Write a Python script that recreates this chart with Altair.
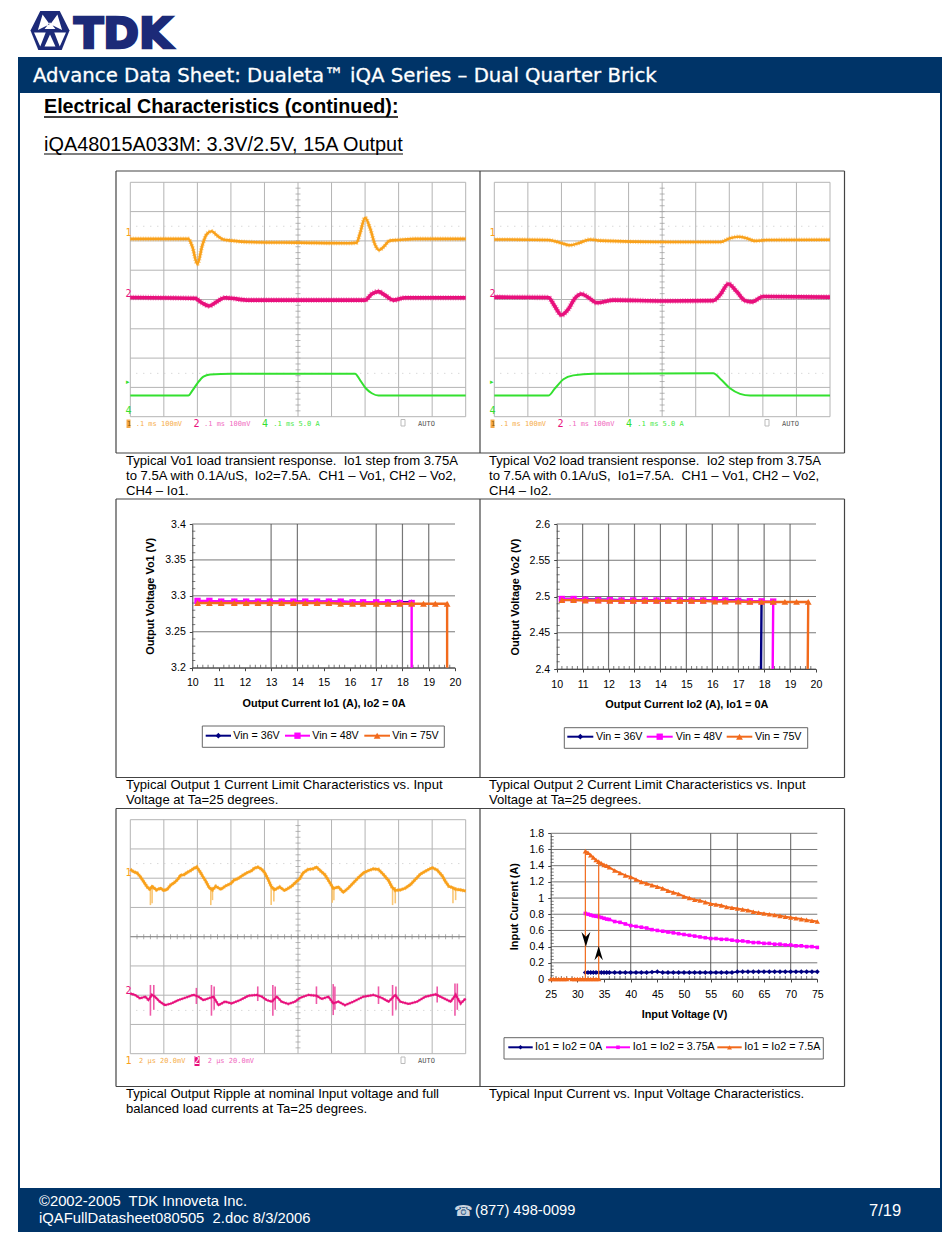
import altair as alt
import pandas as pd

# ---------- data ----------
# scope traces: (time in divisions, level in divisions)
S1_CH1 = [(0,6.07),(1.73,6.07),(1.85,5.80),(2.0,5.21),(2.15,5.86),(2.28,6.23),(2.43,6.33),(2.57,6.20),(2.77,6.05),(3.02,6.01),(3.52,5.96),(5.01,5.94),(6.5,5.92),(6.75,5.94),(6.85,6.26),(7.0,6.79),(7.15,6.43),(7.30,5.86),(7.42,5.69),(7.54,5.78),(7.74,6.01),(7.99,6.03),(8.49,6.07),(10,6.07)]
S1_CH2 = [(0,4.07),(1.93,4.04),(2.13,3.89),(2.35,3.78),(2.57,3.92),(2.82,4.06),(3.02,4.04),(3.52,3.98),(5.01,3.98),(6.5,3.98),(7.0,3.98),(7.2,4.19),(7.4,4.27),(7.59,4.15),(7.84,3.98),(8.19,4.06),(10,4.06)]
S1_CH4 = [(0,.72),(1.73,.72),(1.85,.89),(2,1.14),(2.18,1.37),(2.38,1.44),(3.02,1.47),(6.7,1.47),(6.85,1.25),(7.02,.97),(7.2,.80),(7.4,.72),(10,.72)]
S2_CH1 = [(0,6.05),(1.61,6.03),(1.96,5.94),(2.25,5.85),(2.55,5.94),(2.85,6.05),(3.15,6.01),(5.03,5.96),(6.72,5.96),(7.02,6.09),(7.27,6.14),(7.52,6.09),(7.77,6.0),(8.11,6.03),(10,6.04)]
S2_CH2 = [(0,4.08),(1.61,4.07),(1.78,3.81),(2.0,3.47),(2.2,3.66),(2.4,4.04),(2.6,4.19),(2.8,4.07),(3.05,3.89),(3.55,3.98),(5.03,3.95),(6.52,3.96),(6.72,4.15),(6.97,4.53),(7.22,4.27),(7.47,3.96),(7.67,3.92),(8.01,4.10),(10,4.08)]
S2_CH4 = [(0,.72),(1.61,.72),(1.81,.97),(2.06,1.28),(2.35,1.41),(2.95,1.47),(6.52,1.48),(6.77,1.25),(7.02,.97),(7.32,.78),(7.62,.72),(10,.72)]
R_CH1 = [(0,6.30),(.1,6.22),(.2,6.18),(.3,6.05),(.4,5.88),(.5,5.70),(.58,5.62),(.65,5.72),(.78,5.60),(.9,5.66),(1.0,5.58),(1.1,5.62),(1.2,5.76),(1.3,5.84),(1.4,5.94),(1.5,6.10),(1.6,6.12),(1.7,6.20),(1.8,6.26),(1.9,6.34),(1.98,6.38),(2.08,6.22),(2.15,6.08),(2.25,5.90),(2.35,5.68),(2.45,5.60),(2.55,5.72),(2.7,5.62),(2.85,5.74),(3.0,5.82),(3.1,5.94),(3.2,5.98),(3.35,6.10),(3.5,6.20),(3.6,6.24),(3.7,6.34),(3.8,6.38),(3.9,6.32),(4.0,6.20),(4.1,5.98),(4.2,5.72),(4.3,5.60),(4.45,5.70),(4.6,5.58),(4.8,5.72),(4.95,5.88),(5.05,5.98),(5.15,6.18),(5.3,6.30),(5.45,6.32),(5.55,6.38),(5.7,6.22),(5.8,6.12),(5.95,5.85),(6.05,5.65),(6.2,5.70),(6.35,5.52),(6.5,5.66),(6.65,5.84),(6.8,6.02),(6.95,6.18),(7.1,6.26),(7.25,6.32),(7.4,6.30),(7.55,6.12),(7.7,5.92),(7.8,5.70),(7.9,5.58),(8.05,5.60),(8.2,5.66),(8.35,5.78),(8.5,5.96),(8.65,6.14),(8.8,6.24),(9.0,6.36),(9.15,6.28),(9.3,6.08),(9.4,5.88),(9.5,5.72),(9.6,5.68),(9.7,5.62),(9.85,5.60),(10,5.56)]
R_CH2 = [(0,2.06),(.14,2.01),(.29,1.89),(.45,1.95),(.54,1.83),(.64,2.01),(.73,1.95),(.88,1.78),(1.03,1.66),(1.23,1.72),(1.43,1.83),(1.63,1.91),(1.88,2.01),(2.03,1.95),(2.18,1.83),(2.33,1.89),(2.48,1.95),(2.63,1.66),(2.82,1.78),(3.02,1.72),(3.27,1.83),(3.52,1.98),(3.77,2.01),(3.92,1.95),(4.07,1.83),(4.22,1.78),(4.37,1.95),(4.51,1.78),(4.71,1.70),(4.91,1.78),(5.06,1.91),(5.31,2.01),(5.56,1.98),(5.71,1.87),(5.91,1.95),(6.05,1.72),(6.2,1.78),(6.4,1.66),(6.65,1.78),(6.95,1.95),(7.25,2.01),(7.5,1.91),(7.7,1.78),(7.9,2.01),(8.05,1.78),(8.3,1.70),(8.55,1.78),(8.8,1.95),(9.1,2.03),(9.35,1.89),(9.55,1.78),(9.7,2.01),(9.85,1.72),(10,1.89)]
R_CH1_SPIKE_X = [.6,.65,2.4,2.45,4.2,4.28,6.02,6.07,7.82,7.9,9.62,9.7]
R_CH1_SPIKE_LOW = [5.08,5.14,5.08,5.25,5.08,5.2,5.16,5.25,5.08,5.14,5.14,5.25]
R_CH2_SPIKE_X = [.6,.7,1.97,2.42,2.5,3.8,4.25,4.32,5.55,6.05,6.1,7.4,7.82,7.92,9.15,9.68,9.75]
R_CH2_SPIKE_LOW = [1.3,1.5,1.7,1.3,1.5,1.8,1.3,1.5,1.7,1.32,1.5,1.7,1.3,1.5,1.75,1.3,1.5]
R_CH2_SPIKE_HIGH = [2.35,2.35,2.25,2.35,2.3,2.3,2.35,2.3,2.3,2.38,2.3,2.3,2.35,2.3,2.3,2.4,2.4]

# output current limit curves
CL_X = [10.2,10.65,11.1,11.6,12.05,12.5,12.95,13.4,13.85,14.3,14.75,15.2,15.65,16.1,16.5,17.0,17.45,17.9,18.35]
CL_X_TAIL = [18.8,19.25,19.7]
V1_36 = [3.292,3.292,3.292,3.292,3.292,3.292,3.292,3.292,3.292,3.292,3.292,3.292,3.292,3.291,3.291,3.291,3.291,3.291,3.291]
V1_48 = [3.293,3.293,3.292,3.292,3.292,3.292,3.292,3.292,3.292,3.292,3.292,3.292,3.292,3.291,3.291,3.291,3.291,3.290,3.290]
V1_75 = [3.290,3.290,3.290,3.290,3.290,3.290,3.290,3.290,3.290,3.290,3.290,3.290,3.289,3.289,3.289,3.289,3.289,3.289,3.289,3.289,3.289,3.289]
V2_36 = [2.4965,2.4965,2.4960,2.4955,2.4955,2.4950,2.4950,2.4950,2.4950,2.4950,2.4950,2.4950,2.4950,2.4950,2.4950,2.4945,2.4935,2.4930]
V2_48 = [2.4966,2.4966,2.4955,2.4950,2.4950,2.4945,2.4945,2.4945,2.4945,2.4945,2.4945,2.4945,2.4945,2.4950,2.4945,2.4940,2.4935,2.4933,2.4930]
V2_75 = [2.4950,2.4950,2.4945,2.4945,2.4940,2.4940,2.4940,2.4940,2.4940,2.4940,2.4940,2.4940,2.4940,2.4930,2.4930,2.4930,2.4925,2.4925,2.4925,2.4925,2.4925,2.4925]
LIM1 = {"48": 18.35, "75": 19.7}
LIM2 = {"36": 17.88, "48": 18.33, "75": 19.68}

# input current curves
IV_X = [31.5,32,32.5,33,33.5,34,34.5,35,35.5,36,37,38,39,40,41,42,43,44,45,46,47,48,49,50,51,52,53,54,55,56,57,58,59,60,61,62,63,64,65,66,67,68,69,70,71,72,73,74,75]
IV_75 = [1.58,1.56,1.53,1.50,1.47,1.45,1.43,1.41,1.40,1.38,1.34,1.31,1.28,1.26,1.23,1.20,1.18,1.16,1.14,1.12,1.09,1.07,1.05,1.02,1.00,.98,.97,.95,.93,.92,.91,.89,.88,.87,.86,.85,.83,.82,.81,.80,.79,.78,.77,.76,.75,.74,.73,.72,.71]
IV_375 = [.81,.80,.79,.78,.775,.77,.76,.75,.74,.735,.71,.70,.68,.66,.65,.64,.63,.61,.60,.59,.58,.57,.56,.55,.54,.53,.52,.51,.50,.50,.49,.49,.48,.47,.47,.46,.45,.45,.44,.44,.43,.43,.42,.42,.41,.41,.40,.40,.39]
IV_0 = [.08,.08,.08,.08,.08,.08,.08,.08,.08,.08,.08,.08,.08,.08,.08,.08,.08,.085,.09,.08,.08,.08,.08,.08,.08,.08,.08,.08,.08,.08,.08,.08,.08,.09,.09,.09,.09,.09,.09,.09,.09,.09,.09,.09,.09,.09,.09,.09,.09]
IV_LOW_X = [25,25.5,26,26.5,27,27.5,28,29,29.5,30,30.5,31,31.5,32,32.5,33,33.5,34]

CL_XT = [10,11,12,13,14,15,16,17,18,19,20]
CL1_GRID_X = [13,14,17,18,19]
CL2_GRID_X = [11,12,13,14,15,16,17,18,19]
CL1_YT = [3.2,3.25,3.3,3.35,3.4]
CL2_YT = [2.4,2.45,2.5,2.55,2.6]
IV_XT = [25,30,35,40,45,50,55,60,65,70,75]
IV_GRID_X = [40,55,60,70]
IV_YT = [0,.2,.4,.6,.8,1,1.2,1.4,1.6,1.8]
SCOPE_XT = [0,1,2,3,4,5,6,7,8,9,10]
SCOPE_YT = [0,1,2,3,4,5,6,7,8]
SCOPE_MINOR = [i/5 for i in range(1, 40)]

CAP1 = ["Typical Vo1 load transient response.\u00a0 Io1 step from 3.75A", "to 7.5A with 0.1A/uS,\u00a0 Io2=7.5A.\u00a0 CH1 \u2013 Vo1, CH2 \u2013 Vo2,", "CH4 \u2013 Io1."]
CAP2 = ["Typical Vo2 load transient response.\u00a0 Io2 step from 3.75A", "to 7.5A with 0.1A/uS,\u00a0 Io1=7.5A.\u00a0 CH1 \u2013 Vo1, CH2 \u2013 Vo2,", "CH4 \u2013 Io2."]
CAP3 = ["Typical Output 1 Current Limit Characteristics vs. Input", "Voltage at Ta=25 degrees."]
CAP4 = ["Typical Output 2 Current Limit Characteristics vs. Input", "Voltage at Ta=25 degrees."]
CAP5 = ["Typical Output Ripple at nominal Input voltage and full", "balanced load currents at Ta=25 degrees."]
CAP6 = ["Typical Input Current vs. Input Voltage Characteristics."]

# ---------- styling ----------
NAVY_BAND = "#003468"
ORANGE = "#f9a11b"; PINK = "#e8107c"; GREEN = "#33e02f"
XL_NAVY = "#000080"; XL_MAG = "#ff00ff"; XL_OR = "#f26a1c"
SANS = "Liberation Sans"
ONE = pd.DataFrame({"a": [0]})
W, H = 934, 1225
layers = []

def p(v):
    return v - 8

def txt(s, x, y, size=12, color="black", font=SANS, weight="normal", align="left", angle=0):
    kw = dict(text=s, font=font, fontSize=size, color=color, fontWeight=weight, align=align, baseline="middle")
    if angle:
        kw["angle"] = angle
    layers.append(alt.Chart(ONE).mark_text(**kw).encode(x=alt.value(p(x)), y=alt.value(p(y))))

def seg(x1, y1, x2, y2, color="#444444", w=1.0):
    layers.append(alt.Chart(ONE).mark_rule(color=color, strokeWidth=w).encode(
        x=alt.value(p(x1)), y=alt.value(p(y1)), x2=alt.value(p(x2)), y2=alt.value(p(y2))))

def box(x1, y1, x2, y2, fill, stroke=None, w=1.0):
    kw = dict(fill=fill)
    if stroke:
        kw.update(stroke=stroke, strokeWidth=w)
    layers.append(alt.Chart(ONE).mark_rect(**kw).encode(
        x=alt.value(p(x1)), x2=alt.value(p(x2)), y=alt.value(p(y1)), y2=alt.value(p(y2))))

def sym(shape, x, y, size, color):
    layers.append(alt.Chart(ONE).mark_point(shape=shape, size=size, filled=True, color=color, opacity=1).encode(
        x=alt.value(p(x)), y=alt.value(p(y))))

def sc(dom, a, b):
    return alt.Scale(domain=dom, range=[p(a), p(b)], nice=False, zero=False)

def line(xs, ys, sx, sy, color, w, opacity=1.0, interp="linear", dash=None):
    df = pd.DataFrame({"x": xs, "y": ys, "i": range(len(xs))})
    kw = dict(color=color, strokeWidth=w, opacity=opacity, interpolate=interp)
    if dash:
        kw["strokeDash"] = dash
    layers.append(alt.Chart(df).mark_line(**kw).encode(
        x=alt.X("x:Q", scale=sx, axis=None), y=alt.Y("y:Q", scale=sy, axis=None), order=alt.Order("i:Q")))

def pts(xs, ys, sx, sy, color, shape, size):
    df = pd.DataFrame({"x": xs, "y": ys})
    layers.append(alt.Chart(df).mark_point(color=color, shape=shape, size=size, filled=True, opacity=1).encode(
        x=alt.X("x:Q", scale=sx, axis=None), y=alt.Y("y:Q", scale=sy, axis=None)))

def scope(pairs_list, left, right, top, bottom, center_ticks=False):
    sx = sc([0, 10], left, right)
    sy = sc([0, 8], bottom, top)
    layers.append(alt.Chart(pd.DataFrame({"v": SCOPE_XT})).mark_rule(color="#b4b4b4", strokeWidth=1).encode(
        x=alt.X("v:Q", scale=sx, axis=None), y=alt.value(p(top)), y2=alt.value(p(bottom))))
    layers.append(alt.Chart(pd.DataFrame({"v": SCOPE_YT})).mark_rule(color="#b4b4b4", strokeWidth=1).encode(
        y=alt.Y("v:Q", scale=sy, axis=None), x=alt.value(p(left)), x2=alt.value(p(right))))
    layers.append(alt.Chart(pd.DataFrame({"v": SCOPE_MINOR})).mark_tick(color="#9a9a9a", size=5, thickness=1, orient="horizontal").encode(
        y=alt.Y("v:Q", scale=sy, axis=None), x=alt.X("c:Q", scale=sx, axis=None)).transform_calculate(c="5"))
    if center_ticks:
        seg(left, (top + bottom) / 2, right, (top + bottom) / 2, "#8a8a8a", 1)
        layers.append(alt.Chart(pd.DataFrame({"v": [i / 5 for i in range(1, 50)]})).mark_tick(color="#8a8a8a", size=5, thickness=1, orient="vertical").encode(
            x=alt.X("v:Q", scale=sx, axis=None), y=alt.Y("c:Q", scale=sy, axis=None)).transform_calculate(c="4"))
    for lvl in (6.5, 1.48):
        layers.append(alt.Chart(pd.DataFrame({"v": [lvl]})).mark_rule(color="#c8c8c8", strokeWidth=1, strokeDash=[1, 6]).encode(
            y=alt.Y("v:Q", scale=sy, axis=None), x=alt.value(p(left + 6)), x2=alt.value(p(right - 6))))
    for pairs, color, wid in pairs_list:
        xs = [a for a, _ in pairs]; ys = [b for _, b in pairs]
        if wid > 2:
            line(xs, ys, sx, sy, color, wid + 2, 0.5, "monotone", [1, 1.5])
        line(xs, ys, sx, sy, color, wid, 1.0, "monotone")
    return sx, sy

def scope_foot(dx, y, labels):
    for s, x, c in labels:
        txt(s, x + dx, y, 7, c, "DejaVu Sans Mono")

def scope_digit(s, x, y, c):
    txt(s, x, y, 10, c, "DejaVu Sans Mono")

def excel(sx, sy, left, right, top, bottom, xt, yt, grid_x, xtitle, ytitle, x_minor, y_minor):
    ax = dict(domain=True, domainColor="#444444", tickColor="#444444", tickSize=3, labelFont=SANS, labelFontSize=10.6,
              labelColor="black", titleFont=SANS, titleFontSize=10.9, titleFontWeight="bold", titleColor="black",
              labelOverlap=False, labelFlush=False, labelBound=False, grid=False, labelExpr="'' + datum.value")
    layers.append(alt.Chart(pd.DataFrame({"v": grid_x})).mark_rule(color="#777777", strokeWidth=1.2).encode(
        x=alt.X("v:Q", scale=sx, axis=None), y=alt.value(p(top)), y2=alt.value(p(bottom))))
    layers.append(alt.Chart(pd.DataFrame({"v": yt})).mark_rule(color="#555555", strokeWidth=0.8).encode(
        y=alt.Y("v:Q", scale=sy, axis=alt.Axis(values=yt, title=ytitle, orient="left", offset=-p(left), labelPadding=4, titlePadding=9, **ax)),
        x=alt.value(p(left)), x2=alt.value(p(right))))
    layers.append(alt.Chart(pd.DataFrame({"v": xt})).mark_rule(opacity=0).encode(
        x=alt.X("v:Q", scale=sx, axis=alt.Axis(values=xt, title=xtitle, orient="bottom", offset=p(bottom) - H, labelPadding=7, titlePadding=9, **ax)),
        y=alt.value(p(bottom)), y2=alt.value(p(bottom))))
    layers.append(alt.Chart(pd.DataFrame({"v": x_minor})).mark_tick(color="#444444", size=3, thickness=1, orient="vertical").encode(
        x=alt.X("v:Q", scale=sx, axis=None), y=alt.value(p(bottom) - 1.5)))
    layers.append(alt.Chart(pd.DataFrame({"v": y_minor})).mark_tick(color="#444444", size=3, thickness=1, orient="horizontal").encode(
        y=alt.Y("v:Q", scale=sy, axis=None), x=alt.value(p(left) + 1.5)))

def legend_box(x1, y1, x2, y2, items, cy, msizes):
    box(x1, y1, x2, y2, "white", "#666666", 1)
    for (lx1, lx2, tx, label, color, shape), ms in zip(items, msizes):
        seg(lx1, cy, lx2, cy, color, 2)
        sym(shape, (lx1 + lx2) / 2, cy, ms, color)
        txt(label, tx, cy, 10.7)

# ---------- page furniture ----------
HEX = "M-0.5,-1 L0.5,-1 L1,0 L0.6,1 L-0.6,1 L-1,0 Z"
STAR = ("M-0.38,-0.82 L-0.02,-0.32 L-0.62,-0.02 Z M0.38,-0.82 L0.02,-0.32 L0.62,-0.02 Z "
        "M-0.28,-0.08 L0.28,-0.08 L0,-0.42 Z M-0.82,0.1 L-0.22,0.1 L-0.5,0.82 Z M0.82,0.1 L0.22,0.1 L0.5,0.82 Z "
        "M0,0.2 L-0.28,0.82 L0.28,0.82 Z")
sym(HEX, 50, 30.5, 1520, "#1c2a78")
sym(STAR, 50, 30.5, 1520, "white")
layers.append(alt.Chart(ONE).mark_text(text="TDK", font="DejaVu Sans", fontSize=43, fontWeight="bold", color="#1c2a78",
                                       stroke="#1c2a78", strokeWidth=2.6, align="left", baseline="middle").encode(x=alt.value(p(74)), y=alt.value(p(35.3))))

box(18, 57, 942, 93, NAVY_BAND)
box(18, 93, 20, 1188, NAVY_BAND)
box(940, 93, 942, 1188, NAVY_BAND)
box(18, 1188, 942, 1232, NAVY_BAND)
layers.append(alt.Chart(ONE).mark_text(text="Advance Data Sheet: Dualeta\u2122 iQA Series \u2013 Dual Quarter Brick", font="DejaVu Sans", fontSize=19.7,
                                       color="white", stroke="white", strokeWidth=0.3, align="left", baseline="middle").encode(x=alt.value(p(33)), y=alt.value(p(76))))
txt("Electrical Characteristics (continued):", 44, 106.5, 19.7, weight="bold")
seg(44, 117, 398, 117, "black", 1.4)
txt("iQA48015A033M: 3.3V/2.5V, 15A Output", 44, 144.5, 19.9)
seg(44, 154, 403, 154, "black", 1.2)
txt("\u00a92002-2005\u00a0 TDK Innoveta Inc.", 39, 1202, 14.8, "white")
txt("iQAFullDatasheet080505\u00a0 2.doc 8/3/2006", 39, 1219, 14.8, "white")
txt("\u260e", 454, 1211, 15, "#c9d3df", "DejaVu Sans")
txt("(877) 498-0099", 475, 1211, 14.7, "white")
txt("7/19", 869, 1211, 16.5, "white")

# table frame
FRAME = "#444444"
for y in (171, 453, 499, 777.5, 808.5, 1086.5):
    seg(116, y, 844.5, y, FRAME, 1.2)
for y1, y2 in ((171, 453), (499, 777.5), (808.5, 1086.5)):
    seg(116, y1, 116, y2, FRAME, 1.2)
    seg(480, y1, 480, y2, FRAME, 1.2)
    seg(844.5, y1, 844.5, y2, FRAME, 1.2)

def caption(lines, x, ys):
    for s, y in zip(lines, ys):
        txt(s, x, y, 13.1)

caption(CAP1, 126, (461, 475.5, 490.5))
caption(CAP2, 489, (461, 475.5, 490.5))
caption(CAP3, 126, (785, 799.5))
caption(CAP4, 489, (785, 799.5))
caption(CAP5, 126, (1094, 1109))
caption(CAP6, 489, (1094,))

# ---------- scope panels ----------
LO, LP, LG = "#f6ae4a", "#f06ac0", "#44e844"

scope([(S1_CH1, ORANGE, 2.6), (S1_CH2, PINK, 3.6), (S1_CH4, GREEN, 2)], 130.3, 465.7, 182.3, 416.7)
scope([(S2_CH1, ORANGE, 2.6), (S2_CH2, PINK, 3.6), (S2_CH4, GREEN, 2)], 494.3, 830, 182.3, 416.7)
for dx in (0, 364):
    scope_digit("1", 125.5 + dx, 233, ORANGE)
    scope_digit("2", 125.5 + dx, 293.5, PINK)
    scope_digit("4", 125.5 + dx, 411, GREEN)
    txt("\u25b8", 126 + dx, 382, 7, GREEN, "DejaVu Sans")
    box(126.5 + dx, 419.5, 130.5 + dx, 428, "#f4a94a")
    scope_digit("2", 193.5 + dx, 424, PINK)
    scope_digit("4", 262 + dx, 424, GREEN)
    scope_foot(dx, 424, [("1", 127, "#8a5a00"), (".1 ms 100mV", 135.7, LO), (".1 ms 100mV", 204, LP),
                         (".1 ms 5.0 A", 273.3, LG), ("AUTO", 418, "#555555")])
    box(401 + dx, 419.5, 405 + dx, 426, "white", "#bbbbbb", 1)

sxr, syr = scope([], 130.3, 465.7, 819.7, 1053.7, center_ticks=True)
layers.append(alt.Chart(pd.DataFrame({"x": R_CH1_SPIKE_X, "y": R_CH1_SPIKE_LOW, "y2": [5.7] * len(R_CH1_SPIKE_X)})).mark_rule(color="#f9c674", strokeWidth=1.6).encode(
    x=alt.X("x:Q", scale=sxr, axis=None), y=alt.Y("y:Q", scale=syr, axis=None), y2="y2:Q"))
layers.append(alt.Chart(pd.DataFrame({"x": R_CH2_SPIKE_X, "y": R_CH2_SPIKE_LOW, "y2": R_CH2_SPIKE_HIGH})).mark_rule(color="#ee5aa8", strokeWidth=1.6).encode(
    x=alt.X("x:Q", scale=sxr, axis=None), y=alt.Y("y:Q", scale=syr, axis=None), y2="y2:Q"))
line([a for a, _ in R_CH1], [b for _, b in R_CH1], sxr, syr, ORANGE, 4, 0.5, "linear", [1, 1.5])
line([a for a, _ in R_CH1], [b for _, b in R_CH1], sxr, syr, ORANGE, 2.6)
line([a for a, _ in R_CH2], [b for _, b in R_CH2], sxr, syr, PINK, 3.2, 0.5, "linear", [1, 1.5])
line([a for a, _ in R_CH2], [b for _, b in R_CH2], sxr, syr, PINK, 2)
scope_digit("1", 125.5, 873, ORANGE)
scope_digit("2", 125.5, 991, PINK)
box(194.5, 1056, 199.5, 1066, PINK)
scope_digit("1", 125.5, 1061, ORANGE)
scope_digit("2", 194, 1061, "white")
scope_foot(0, 1061, [("2 \u00b5s 20.0mV", 139, LO), ("2 \u00b5s 20.0mV", 207.7, LP), ("AUTO", 418, "#555555")])
box(401, 1057, 405, 1063.5, "white", "#bbbbbb", 1)

# ---------- current limit panels ----------
MINOR_CL_X = [10 + i / 5 for i in range(51) if i % 5]
sx3 = sc([10, 20], 192.3, 455); sy3 = sc([3.2, 3.4], 667.7, 524)
excel(sx3, sy3, 192.3, 455, 524, 667.7, CL_XT, CL1_YT, CL1_GRID_X, "Output Current Io1 (A), Io2 = 0A", "Output Voltage Vo1 (V)",
      MINOR_CL_X, [3.2 + i / 100 for i in range(21) if i % 5])
X75 = CL_X + CL_X_TAIL
line(CL_X, V1_36, sx3, sy3, XL_NAVY, 2.4)
pts(CL_X, V1_36, sx3, sy3, XL_NAVY, "diamond", 32)
line(CL_X + [LIM1["48"]], V1_48 + [3.2], sx3, sy3, XL_MAG, 2.4)
pts(CL_X, V1_48, sx3, sy3, XL_MAG, "square", 40)
line(X75 + [LIM1["75"]], V1_75 + [3.2], sx3, sy3, XL_OR, 2.4)
pts(X75, V1_75, sx3, sy3, XL_OR, "triangle-up", 46)

sx4 = sc([10, 20], 556.7, 816); sy4 = sc([2.4, 2.6], 669, 524)
excel(sx4, sy4, 556.7, 816, 524, 669, CL_XT, CL2_YT, CL2_GRID_X, "Output Current Io2 (A), Io1 = 0A", "Output Voltage Vo2 (V)",
      MINOR_CL_X, [2.4 + i / 100 for i in range(21) if i % 5])
line(CL_X[:18] + [LIM2["36"]], V2_36 + [2.4], sx4, sy4, XL_NAVY, 2.4)
pts(CL_X[:18], V2_36, sx4, sy4, XL_NAVY, "diamond", 32)
line(CL_X + [LIM2["48"]], V2_48 + [2.4], sx4, sy4, XL_MAG, 2.4)
pts(CL_X, V2_48, sx4, sy4, XL_MAG, "square", 40)
line(X75 + [LIM2["75"]], V2_75 + [2.4], sx4, sy4, XL_OR, 2.4)
pts(X75, V2_75, sx4, sy4, XL_OR, "triangle-up", 46)

legend_box(202.3, 726, 444.3, 747.3, [
    (205.7, 231, 233.3, "Vin = 36V", XL_NAVY, "diamond"),
    (285, 310, 312.3, "Vin = 48V", XL_MAG, "square"),
    (364.3, 390, 392.3, "Vin = 75V", XL_OR, "triangle-up")], 735.7, [32, 40, 46])
legend_box(564.3, 727.7, 807.7, 748.3, [
    (567.3, 593.3, 596, "Vin = 36V", XL_NAVY, "diamond"),
    (646.7, 672.7, 675.7, "Vin = 48V", XL_MAG, "square"),
    (726.7, 752.3, 755, "Vin = 75V", XL_OR, "triangle-up")], 736.7, [32, 40, 46])

# ---------- input current panel ----------
sx6 = sc([25, 75], 550.7, 817.3); sy6 = sc([0, 1.8], 979, 833.3)
excel(sx6, sy6, 550.7, 817.3, 833.3, 979, IV_XT, IV_YT, IV_GRID_X, "Input Voltage (V)", "Input Current (A)",
      [25 + i for i in range(51) if i % 5], [i / 25 for i in range(46) if i % 5])
LOW0 = [0] * len(IV_LOW_X)
line(IV_LOW_X, LOW0, sx6, sy6, XL_NAVY, 1.5)
line(IV_X, IV_0, sx6, sy6, XL_NAVY, 1.8)
pts(IV_X, IV_0, sx6, sy6, XL_NAVY, "diamond", 24)
line(IV_X, IV_375, sx6, sy6, XL_MAG, 2)
pts(IV_X, IV_375, sx6, sy6, XL_MAG, "square", 13)
line([31.5, 31.5], [1.58, 0], sx6, sy6, XL_OR, 1.2)
line([34, 34], [0, 1.45], sx6, sy6, XL_OR, 1.2)
line(IV_LOW_X, LOW0, sx6, sy6, XL_OR, 2)
pts(IV_LOW_X, LOW0, sx6, sy6, XL_OR, "triangle-up", 28)
line(IV_X, IV_75, sx6, sy6, XL_OR, 2)
pts(IV_X, IV_75, sx6, sy6, XL_OR, "triangle-up", 28)
ARROW_DOWN = "M-0.6,-1 L0,-0.35 L0.6,-1 L0,1 Z"
ARROW_UP = "M-0.6,1 L0,0.35 L0.6,1 L0,-1 Z"
pts([31.6], [.49], sx6, sy6, "black", ARROW_DOWN, 220)
pts([34], [.32], sx6, sy6, "black", ARROW_UP, 200)

legend_box(504, 1037.7, 823.3, 1059, [
    (508.3, 532.7, 535, "Io1 = Io2 = 0A", XL_NAVY, "diamond"),
    (606, 630, 632.7, "Io1 = Io2 = 3.75A", XL_MAG, "square"),
    (717.3, 741.7, 744.3, "Io1 = Io2 = 7.5A", XL_OR, "triangle-up")], 1047.3, [20, 13, 24])

chart = alt.layer(*layers).resolve_scale(x="independent", y="independent").properties(
    width=W, height=H, padding=0, autosize=alt.AutoSizeParams(type="none"), background="white"
).configure_view(stroke=None)

chart.save("out.html", embed_options={"renderer": "svg", "actions": False})
